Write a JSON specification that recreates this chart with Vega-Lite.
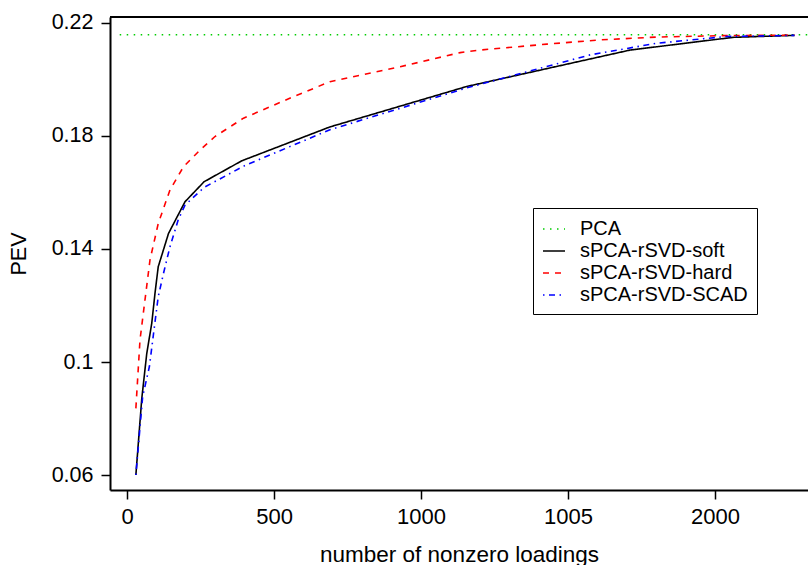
{
  "$schema": "https://vega.github.io/schema/vega-lite/v6.json",
  "width": 698,
  "height": 473,
  "autosize": {"type": "none"},
  "padding": {"left": 110, "top": 17, "right": 0, "bottom": 75},
  "background": "white",
  "config": {
    "view": {"stroke": null},
    "font": "Liberation Sans",
    "axis": {"grid": false, "domainColor": "black", "tickColor": "black", "labelColor": "black", "titleColor": "black", "labelFont": "Liberation Sans", "titleFont": "Liberation Sans", "titleFontWeight": "normal"}
  },
  "data": {
    "values": [
      {"series": "PCA", "n": -25, "pev": 0.2158},
      {"series": "PCA", "n": 2316, "pev": 0.2158},
      {"series": "sPCA-rSVD-soft", "n": 30, "pev": 0.0600},
      {"series": "sPCA-rSVD-soft", "n": 50, "pev": 0.0870},
      {"series": "sPCA-rSVD-soft", "n": 67, "pev": 0.1030},
      {"series": "sPCA-rSVD-soft", "n": 84, "pev": 0.1137},
      {"series": "sPCA-rSVD-soft", "n": 95, "pev": 0.1243},
      {"series": "sPCA-rSVD-soft", "n": 106, "pev": 0.1337},
      {"series": "sPCA-rSVD-soft", "n": 141, "pev": 0.1455},
      {"series": "sPCA-rSVD-soft", "n": 197, "pev": 0.1567},
      {"series": "sPCA-rSVD-soft", "n": 262, "pev": 0.1638},
      {"series": "sPCA-rSVD-soft", "n": 390, "pev": 0.1712},
      {"series": "sPCA-rSVD-soft", "n": 690, "pev": 0.1832},
      {"series": "sPCA-rSVD-soft", "n": 1155, "pev": 0.1975},
      {"series": "sPCA-rSVD-soft", "n": 1711, "pev": 0.2104},
      {"series": "sPCA-rSVD-soft", "n": 2061, "pev": 0.2149},
      {"series": "sPCA-rSVD-soft", "n": 2270, "pev": 0.2156},
      {"series": "sPCA-rSVD-hard", "n": 30, "pev": 0.0836},
      {"series": "sPCA-rSVD-hard", "n": 44, "pev": 0.1078},
      {"series": "sPCA-rSVD-hard", "n": 61, "pev": 0.1220},
      {"series": "sPCA-rSVD-hard", "n": 78, "pev": 0.1361},
      {"series": "sPCA-rSVD-hard", "n": 106, "pev": 0.1490},
      {"series": "sPCA-rSVD-hard", "n": 146, "pev": 0.1609},
      {"series": "sPCA-rSVD-hard", "n": 192, "pev": 0.1691},
      {"series": "sPCA-rSVD-hard", "n": 248, "pev": 0.1750},
      {"series": "sPCA-rSVD-hard", "n": 299, "pev": 0.1798},
      {"series": "sPCA-rSVD-hard", "n": 396, "pev": 0.1863},
      {"series": "sPCA-rSVD-hard", "n": 566, "pev": 0.1939},
      {"series": "sPCA-rSVD-hard", "n": 690, "pev": 0.1992},
      {"series": "sPCA-rSVD-hard", "n": 929, "pev": 0.2045},
      {"series": "sPCA-rSVD-hard", "n": 1133, "pev": 0.2095},
      {"series": "sPCA-rSVD-hard", "n": 1200, "pev": 0.2104},
      {"series": "sPCA-rSVD-hard", "n": 1428, "pev": 0.2125},
      {"series": "sPCA-rSVD-hard", "n": 1609, "pev": 0.2140},
      {"series": "sPCA-rSVD-hard", "n": 1800, "pev": 0.2150},
      {"series": "sPCA-rSVD-hard", "n": 2027, "pev": 0.2155},
      {"series": "sPCA-rSVD-hard", "n": 2270, "pev": 0.2157},
      {"series": "sPCA-rSVD-SCAD", "n": 30, "pev": 0.0600},
      {"series": "sPCA-rSVD-SCAD", "n": 53, "pev": 0.0877},
      {"series": "sPCA-rSVD-SCAD", "n": 76, "pev": 0.0984},
      {"series": "sPCA-rSVD-SCAD", "n": 90, "pev": 0.1100},
      {"series": "sPCA-rSVD-SCAD", "n": 106, "pev": 0.1231},
      {"series": "sPCA-rSVD-SCAD", "n": 124, "pev": 0.1314},
      {"series": "sPCA-rSVD-SCAD", "n": 146, "pev": 0.1408},
      {"series": "sPCA-rSVD-SCAD", "n": 174, "pev": 0.1503},
      {"series": "sPCA-rSVD-SCAD", "n": 197, "pev": 0.1555},
      {"series": "sPCA-rSVD-SCAD", "n": 262, "pev": 0.1618},
      {"series": "sPCA-rSVD-SCAD", "n": 400, "pev": 0.1695},
      {"series": "sPCA-rSVD-SCAD", "n": 690, "pev": 0.1822},
      {"series": "sPCA-rSVD-SCAD", "n": 929, "pev": 0.1898},
      {"series": "sPCA-rSVD-SCAD", "n": 1155, "pev": 0.1970},
      {"series": "sPCA-rSVD-SCAD", "n": 1371, "pev": 0.2030},
      {"series": "sPCA-rSVD-SCAD", "n": 1575, "pev": 0.2087},
      {"series": "sPCA-rSVD-SCAD", "n": 1801, "pev": 0.2128},
      {"series": "sPCA-rSVD-SCAD", "n": 2040, "pev": 0.2152},
      {"series": "sPCA-rSVD-SCAD", "n": 2270, "pev": 0.2156}
    ]
  },
  "layer": [
    {
      "mark": {"type": "line", "strokeWidth": 1.6, "clip": true},
      "encoding": {
        "x": {
          "field": "n", "type": "quantitative",
          "scale": {"domain": [-58, 2316], "nice": false, "zero": false},
          "axis": {
            "values": [0, 500, 1000, 1500, 2000],
            "labelExpr": "datum.value == 1500 ? '1005' : format(datum.value, 'd')",
            "title": "number of nonzero loadings",
            "titleFontSize": 22.5, "labelFontSize": 22,
            "tickSize": 9, "tickWidth": 1.5, "domainWidth": 2,
            "labelPadding": 7, "titlePadding": 16, "labelFlush": false
          }
        },
        "y": {
          "field": "pev", "type": "quantitative",
          "scale": {"domain": [0.0547, 0.2221], "nice": false, "zero": false},
          "axis": {
            "values": [0.06, 0.1, 0.14, 0.18, 0.22],
            "format": "~g",
            "title": "PEV",
            "titleFontSize": 21.5, "labelFontSize": 21.5,
            "tickSize": 9, "tickWidth": 1.5, "domainWidth": 2,
            "labelPadding": 8, "titlePadding": 21
          }
        },
        "color": {
          "field": "series", "type": "nominal",
          "scale": {
            "domain": ["PCA", "sPCA-rSVD-soft", "sPCA-rSVD-hard", "sPCA-rSVD-SCAD"],
            "range": ["#00cd00", "#000000", "#ff0000", "#0000ff"]
          },
          "legend": {
            "title": null,
            "orient": "none",
            "legendX": 423,
            "legendY": 191,
            "symbolType": "stroke",
            "symbolSize": 484,
            "symbolStrokeWidth": 1.6,
            "labelFontSize": 20,
            "labelFont": "Liberation Sans",
            "labelColor": "black",
            "labelLimit": 0,
            "labelOffset": 14,
            "rowPadding": 0,
            "padding": 9,
            "strokeColor": "black",
            "fillColor": "white"
          }
        },
        "strokeDash": {
          "field": "series", "type": "nominal",
          "scale": {
            "domain": ["PCA", "sPCA-rSVD-soft", "sPCA-rSVD-hard", "sPCA-rSVD-SCAD"],
            "range": [[1.5, 5.5], [1, 0], [6, 6], [1.5, 4.5, 6, 4.5]]
          },
          "legend": null
        }
      }
    },
    {
      "mark": {"type": "rule", "color": "black", "strokeWidth": 2},
      "encoding": {
        "y": {"datum": 0.2221, "type": "quantitative"}
      }
    }
  ]
}
